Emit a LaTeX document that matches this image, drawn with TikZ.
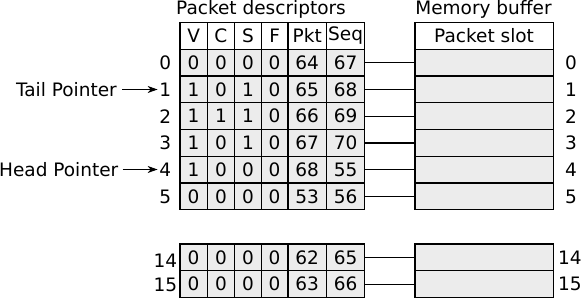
\documentclass[tikz,border=0pt]{standalone}
\usepackage{fontspec}
\setmainfont{DejaVu Sans}
\usetikzlibrary{arrows.meta}
\begin{document}
\begin{tikzpicture}[x=1pt,y=-1pt,
  every node/.style={font=\fontsize{18.5}{21}\selectfont},
  cell/.style={draw=black, line width=1.2pt, fill=gray!15, inner sep=0pt,
    anchor=north west, minimum height=26.75pt},
  headcell/.style={cell, fill=white},
  lbl/.style={inner sep=0pt},
  link/.style={line width=1.2pt},
  ptr/.style={line width=1.2pt, -{Stealth[length=10pt,width=7pt,inset=3pt]}}
]
\useasboundingbox (0,0) rectangle (581,299);
% column positions and widths
\def\colx{{179.3,206.7,234,260.7,287.3,326}}
\def\colw{{27.4,27.3,26.7,26.6,38.7,38}}
% titles
\node[lbl, anchor=base] (t1) at (261,15) {Packet descriptors};
\node[lbl, anchor=base] (t2) at (483.5,15) {Memory buffer};
% header row
\foreach \h [count=\i from 0] in {V,C,S,F,Pkt,Seq}{
  \pgfmathsetmacro{\xx}{\colx[\i]}
  \pgfmathsetmacro{\ww}{\colw[\i]}
  \node[headcell, minimum width=\ww pt, minimum height=26.7pt] (h\i) at (\xx,22) {\h};
}
\node[headcell, minimum width=138.4pt, minimum height=26.7pt] (mh) at (414.3,22) {Packet slot};
% data rows: index / top y / values
\foreach \r/\y/\a/\b/\c/\d/\e/\f in {
  0/48.7/0/0/0/0/64/67,
  1/75.45/1/0/1/0/65/68,
  2/102.2/1/1/1/0/66/69,
  3/128.95/1/0/1/0/67/70,
  4/155.7/1/0/0/0/68/55,
  5/182.45/0/0/0/0/53/56,
  14/243.5/0/0/0/0/62/65,
  15/270.25/0/0/0/0/63/66}{
  \foreach \v [count=\i from 0] in {\a,\b,\c,\d,\e,\f}{
    \pgfmathsetmacro{\xx}{\colx[\i]}
    \pgfmathsetmacro{\ww}{\colw[\i]}
    \node[cell, minimum width=\ww pt] (c\r-\i) at (\xx,\y) {\v};
  }
  \node[cell, minimum width=138.4pt] (m\r) at (414.3,\y) {};
  \draw[link] (c\r-5.east) -- (m\r.west);
}
% left and right index labels
\foreach \r in {0,...,5}{
  \node[lbl, anchor=east] (l\r) at ([xshift=-8pt]c\r-0.west) {\r};
  \node[lbl, anchor=west] (r\r) at ([xshift=11pt]m\r.east) {\r};
}
\node[lbl, anchor=east] (l14) at ([xshift=-2pt,yshift=-3pt]c14-0.west) {14};
\node[lbl, anchor=east] (l15) at ([xshift=-2pt,yshift=-1pt]c15-0.west) {15};
\node[lbl, anchor=west] (r14) at ([xshift=4pt]m14.east) {14};
\node[lbl, anchor=west] (r15) at ([xshift=4pt]m15.east) {15};
% pointers
\node[lbl, anchor=east] (tp) at (117,89.5) {Tail Pointer};
\node[lbl, anchor=east] (hp) at (118.5,169.5) {Head Pointer};
\draw[ptr] (tp.east) ++(5pt,0) coordinate (tps) -- ([xshift=-1.5pt]tps -| l1.west) coordinate (tpe);
\draw[ptr] (hp.east) ++(4pt,0) coordinate (hps) -- ([xshift=-1.5pt]hps -| l4.west) coordinate (hpe);
\end{tikzpicture}
\end{document}
